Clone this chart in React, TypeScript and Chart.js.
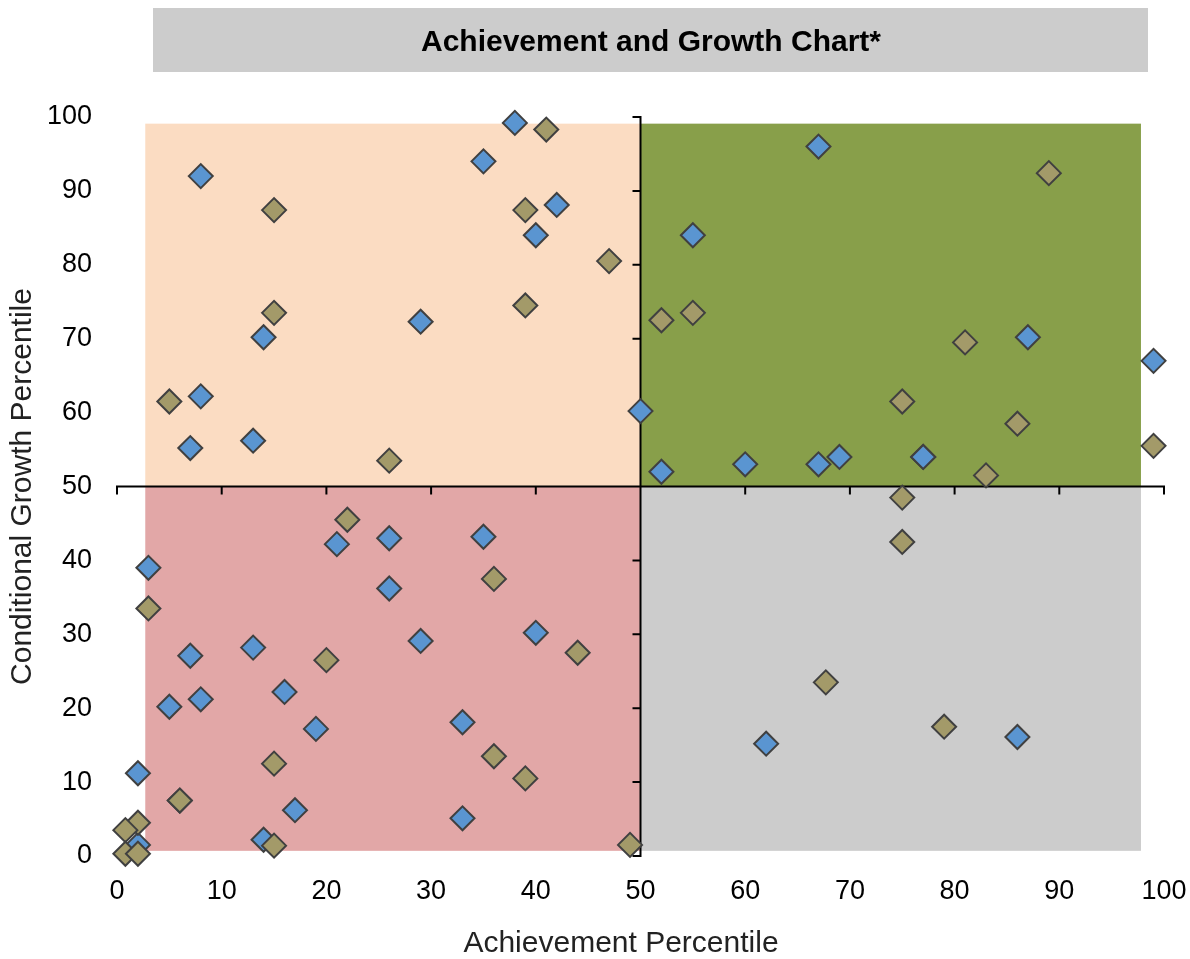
import React, { useEffect, useRef } from "react";
import { Chart, registerables } from "chart.js";

Chart.register(...registerables);

const titleText = "Achievement and Growth Chart*";
const xAxisTitle = "Achievement Percentile";
const yAxisTitle = "Conditional Growth Percentile";
const tickValues = [0, 10, 20, 30, 40, 50, 60, 70, 80, 90, 100];

const blueX = [38, 35, 42, 40, 8, 29, 14, 8, 7, 13, 50, 67, 55, 87, 99, 52, 60, 67, 69, 77, 77, 3, 21, 26, 35, 26, 40, 29, 13, 7, 16, 5, 8, 19, 33, 2, 17, 14, 33, 2, 62, 86];
const blueY = [99.2, 94, 88.1, 84, 92, 72.3, 70.2, 62.2, 55.2, 56.2, 60.2, 96, 84, 70.2, 67, 52, 53, 53, 54, 54, 54, 39, 42.2, 43, 43.2, 36.2, 30.2, 29.1, 28.2, 27.1, 22.2, 20.2, 21.2, 17.2, 18.1, 11.2, 6.2, 2.2, 5.1, 1.5, 15.2, 16.1];

const oliveX = [41, 15, 39, 47, 15, 39, 5, 26, 89, 52, 55, 81, 75, 86, 99, 83, 75, 75, 67.7, 79, 22, 3, 36, 20, 44, 15, 36, 39, 6, 6, 2, 0.8, 0.8, 2, 15, 49];
const oliveY = [98.3, 87.4, 87.4, 80.5, 73.5, 74.5, 61.5, 53.5, 92.4, 72.5, 73.5, 69.5, 61.5, 58.5, 55.5, 51.5, 48.5, 42.5, 23.5, 17.5, 45.5, 33.5, 37.5, 26.5, 27.5, 12.5, 13.5, 10.5, 7.5, 7.5, 4.5, 3.5, 0.3, 0.3, 1.4, 1.5];

const quadrantX0 = [2.7, 50, 2.7, 50];
const quadrantX1 = [50, 97.8, 50, 97.8];
const quadrantY0 = [50, 50, 0.7, 0.7];
const quadrantY1 = [99.1, 99.1, 50, 50];
const quadrantColors = ["#FBDCC2", "#889F4A", "#E2A7A7", "#CCCCCC"];

const FONT = "'Liberation Sans', Arial, sans-serif";

const titleBoxPlugin = {
  id: "titleBox",
  beforeDraw(chart: any) {
    const ctx = chart.ctx;
    ctx.save();
    ctx.fillStyle = "#CCCCCC";
    ctx.fillRect(153, 8, 995, 64);
    ctx.font = `bold 30px ${FONT}`;
    ctx.textAlign = "center";
    ctx.textBaseline = "alphabetic";
    ctx.fillStyle = "#000000";
    ctx.fillText(titleText, 651, 51);
    ctx.font = `30px ${FONT}`;
    ctx.fillStyle = "#222222";
    ctx.textBaseline = "middle";
    ctx.fillText(xAxisTitle, 621, 944);
    ctx.restore();
  },
};

const quadrantPlugin = {
  id: "quadrants",
  beforeDatasetsDraw(chart: any) {
    const { ctx } = chart;
    const x = chart.scales.x;
    const y = chart.scales.y;
    ctx.save();
    for (let i = 0; i < quadrantColors.length; i++) {
      const l = x.getPixelForValue(quadrantX0[i]);
      const r = x.getPixelForValue(quadrantX1[i]);
      const t = y.getPixelForValue(quadrantY1[i]);
      const b = y.getPixelForValue(quadrantY0[i]);
      ctx.fillStyle = quadrantColors[i];
      ctx.fillRect(l, t, r - l, b - t);
    }
    const cx = x.getPixelForValue(50);
    const cy = y.getPixelForValue(50);
    ctx.strokeStyle = "#000000";
    ctx.lineWidth = 2;
    ctx.lineCap = "square";
    ctx.beginPath();
    ctx.moveTo(x.getPixelForValue(0), cy);
    ctx.lineTo(x.getPixelForValue(100), cy);
    ctx.moveTo(cx, y.getPixelForValue(0));
    ctx.lineTo(cx, y.getPixelForValue(100));
    for (const v of tickValues) {
      const px = x.getPixelForValue(v);
      ctx.moveTo(px, cy);
      ctx.lineTo(px, cy + 7);
      const py = y.getPixelForValue(v);
      ctx.moveTo(cx, py);
      ctx.lineTo(cx - 7, py);
    }
    ctx.stroke();
    ctx.restore();
  },
};

export default function App() {
  const canvasRef = useRef<HTMLCanvasElement | null>(null);

  useEffect(() => {
    document.body.style.margin = "0";
    const canvas = canvasRef.current;
    if (!canvas) return;
    const bluePoints = blueX.map((v, i) => ({ x: v, y: blueY[i] }));
    const olivePoints = oliveX.map((v, i) => ({ x: v, y: oliveY[i] }));
    const chart = new Chart(canvas, {
      type: "scatter",
      data: {
        datasets: [
          {
            label: "Series B",
            data: olivePoints,
            pointStyle: "rectRot",
            pointRadius: 12,
            pointHoverRadius: 12,
            backgroundColor: "#A39A69",
            borderColor: "#404040",
            borderWidth: 2,
            clip: false,
          } as any,
          {
            label: "Series A",
            data: bluePoints,
            pointStyle: "rectRot",
            pointRadius: 12,
            pointHoverRadius: 12,
            backgroundColor: "#5A95D1",
            borderColor: "#404040",
            borderWidth: 2,
            clip: false,
          } as any,
        ],
      },
      options: {
        responsive: false,
        animation: false,
        layout: { padding: { top: 117, right: 26, bottom: 0, left: 0 } },
        plugins: {
          legend: { display: false },
          tooltip: { enabled: false },
          title: { display: false },
        },
        scales: {
          x: {
            type: "linear",
            position: "bottom",
            min: 0,
            max: 100,
            ticks: {
              stepSize: 10,
              autoSkip: false,
              maxRotation: 0,
              padding: 19,
              color: "#000000",
              font: { family: FONT, size: 27 },
            },
            grid: { display: false, drawTicks: false },
            border: { display: false },
            title: { display: false },
            afterFit(scale: any) {
              scale.height = 103;
              scale.paddingLeft = 0;
              scale.paddingRight = 0;
            },
          },
          y: {
            type: "linear",
            position: "left",
            min: 0,
            max: 100,
            ticks: {
              stepSize: 10,
              autoSkip: false,
              padding: 25,
              color: "#000000",
              font: { family: FONT, size: 27 },
            },
            grid: { display: false, drawTicks: false },
            border: { display: false },
            title: {
              display: true,
              text: yAxisTitle,
              color: "#222222",
              font: { family: FONT, size: 30, lineHeight: 1 },
              padding: { top: 8, bottom: 0 },
            },
            afterFit(scale: any) {
              scale.width = 117;
              scale.paddingTop = 0;
              scale.paddingBottom = 0;
            },
          },
        },
      } as any,
      plugins: [titleBoxPlugin, quadrantPlugin],
    });
    return () => {
      chart.destroy();
    };
  }, []);

  return (
    <div style={{ width: 1190, height: 959 }}>
      <canvas ref={canvasRef} width={1190} height={959} style={{ display: "block" }} />
    </div>
  );
}
